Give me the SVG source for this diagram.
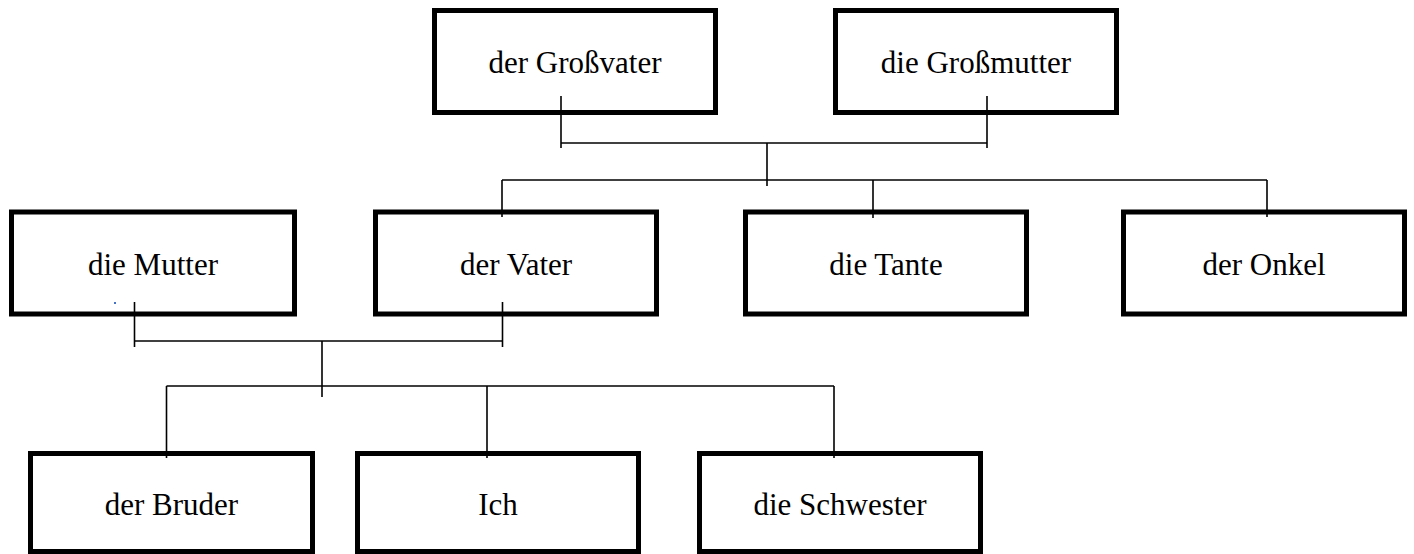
<svg xmlns="http://www.w3.org/2000/svg" width="1414" height="554" viewBox="0 0 1414 554">
<style>
.box{fill:#fff;stroke:#000;stroke-width:5}
.lbl{font-family:"Liberation Serif","Times New Roman",serif;font-size:31px;fill:#000;text-anchor:middle}
.conn line{stroke:#000;stroke-width:1.6}
</style>
<rect x="0" y="0" width="1414" height="554" fill="#fff"/>
<g id="grossvater"><rect class="box" x="434.5" y="10.5" width="281" height="102"/><text class="lbl" x="575" y="73">der Großvater</text></g>
<g id="grossmutter"><rect class="box" x="835.5" y="10.5" width="281" height="102"/><text class="lbl" x="976" y="73">die Großmutter</text></g>
<g id="mutter"><rect class="box" x="11.5" y="212" width="283" height="102"/><text class="lbl" x="153" y="275">die Mutter</text></g>
<g id="vater"><rect class="box" x="375.5" y="212" width="281" height="102"/><text class="lbl" x="516" y="275">der Vater</text></g>
<g id="tante"><rect class="box" x="745.5" y="212" width="281" height="102"/><text class="lbl" x="886" y="275">die Tante</text></g>
<g id="onkel"><rect class="box" x="1123.5" y="212" width="281" height="102"/><text class="lbl" x="1264" y="275">der Onkel</text></g>
<g id="bruder"><rect class="box" x="30.5" y="453.5" width="282" height="98"/><text class="lbl" x="171.5" y="515">der Bruder</text></g>
<g id="ich"><rect class="box" x="357.5" y="453.5" width="281" height="98"/><text class="lbl" x="498" y="515">Ich</text></g>
<g id="schwester"><rect class="box" x="699.5" y="453.5" width="281" height="98"/><text class="lbl" x="840" y="515">die Schwester</text></g>
<rect x="114" y="302" width="2" height="2" fill="#4472c4"/>
<g id="connectors" class="conn">
<line x1="561" y1="96" x2="561" y2="148"/>
<line x1="987" y1="96" x2="987" y2="148"/>
<line x1="561" y1="143" x2="987" y2="143"/>
<line x1="767" y1="143" x2="767" y2="186"/>
<line x1="502" y1="180" x2="1267" y2="180"/>
<line x1="502" y1="180" x2="502" y2="217"/>
<line x1="873" y1="180" x2="873" y2="218"/>
<line x1="1267" y1="180" x2="1267" y2="217"/>
<line x1="134.5" y1="302" x2="134.5" y2="347"/>
<line x1="502.5" y1="302" x2="502.5" y2="347"/>
<line x1="134.5" y1="341" x2="502.5" y2="341"/>
<line x1="322" y1="341" x2="322" y2="397"/>
<line x1="166.5" y1="386" x2="834" y2="386"/>
<line x1="166.5" y1="386" x2="166.5" y2="458"/>
<line x1="487" y1="386" x2="487" y2="458"/>
<line x1="834" y1="386" x2="834" y2="458"/>
</g>
</svg>
